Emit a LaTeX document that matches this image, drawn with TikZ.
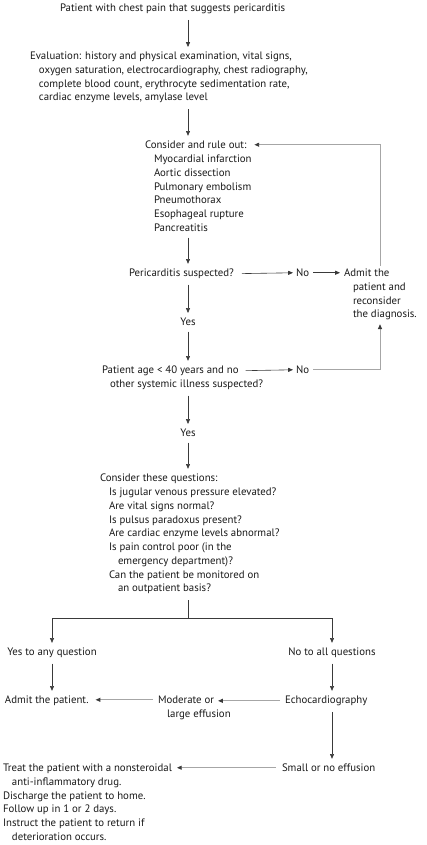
\documentclass[tikz,border=0pt]{standalone}
\usepackage{fontspec}
\setmainfont{PT Sans}
\usetikzlibrary{arrows.meta}
\definecolor{dk}{HTML}{3A3A3A}
\definecolor{lg}{HTML}{A6A6A6}
\newcommand\dfont{\fontsize{10.8}{13.75}\selectfont}
\newcommand\myind{\hspace*{9pt}}
\begin{document}
\begin{tikzpicture}[x=1pt,y=-1pt,
  txt/.style={inner sep=0pt, outer sep=0pt, font=\dfont, align=left, text=black!90},
  tip/.style={-{Triangle[length=4.8pt,width=4pt,color=dk]}},
  arr/.style={draw=dk, line width=0.6pt, tip, shorten <=6pt, shorten >=5pt},
  dline/.style={draw=dk, line width=0.6pt},
  garr/.style={draw=lg, line width=0.9pt, tip},
]
\useasboundingbox (0,0) rectangle (427,845);
\coordinate (cx) at (188,0);
\coordinate (lx) at (380,0);

\node[txt, anchor=base west] (title) at (60,11.5) {Patient with chest pain that suggests pericarditis};
\node[txt, anchor=north west] (eval) at (30,52) {Evaluation: history and physical examination, vital signs,\\\myind oxygen saturation, electrocardiography, chest radiography,\\\myind complete blood count, erythrocyte sedimentation rate,\\\myind cardiac enzyme levels, amylase level};
\node[txt, anchor=base west] (rhead) at (145,148.5) {Consider and rule out:};
\node[txt, anchor=north west] (rlist) at (154,155) {Myocardial infarction\\Aortic dissection\\Pulmonary embolism\\Pneumothorax\\Esophageal rupture\\Pancreatitis};
\node[txt, anchor=base west] (perc) at (129,276.5) {Pericarditis suspected?};
\node[txt, anchor=base west] (no1) at (296,276.5) {No};
\node[txt, anchor=north west] (admit1) at (344,269) {Admit the\\\myind patient and\\\myind reconsider\\\myind the diagnosis.};
\node[txt, anchor=base] (yes1) at (188,325.5) {Yes};
\node[txt, anchor=base west] (age1) at (102,373.5) {Patient age < 40 years and no};
\node[txt, anchor=base west] (age2) at (110,387.5) {other systemic illness suspected?};
\node[txt, anchor=base west] (no2) at (296,373.5) {No};
\node[txt, anchor=base] (yes2) at (188,436.5) {Yes};
\node[txt, anchor=base west] (qhead) at (100,481.5) {Consider these questions:};
\node[txt, anchor=north west] (qlist) at (109,488) {Is jugular venous pressure elevated?\\Are vital signs normal?\\Is pulsus paradoxus present?\\Are cardiac enzyme levels abnormal?\\Is pain control poor (in the\\\myind emergency department)?\\Can the patient be monitored on\\\myind an outpatient basis?};
\coordinate (sp) at (188,618);
\node[txt, anchor=base] (yesany) at (52,655.5) {Yes to any question};
\node[txt, anchor=base] (noall) at (332,655.5) {No to all questions};
\node[txt, anchor=base west] (admit2) at (5,703.5) {Admit the patient.};
\node[txt, anchor=base west] (mod1) at (158,703.5) {Moderate or};
\node[txt, anchor=base west] (mod2) at (167,717) {large effusion};
\node[txt, anchor=base west] (echo) at (285,703.5) {Echocardiography};
\node[txt, anchor=base west] (small) at (282,771.5) {Small or no effusion};
\node[txt, anchor=north west] (treat) at (3,764) {Treat the patient with a nonsteroidal\\\myind anti-inflammatory drug.\\Discharge the patient to home.\\Follow up in 1 or 2 days.\\Instruct the patient to return if\\\myind deterioration occurs.};

% dark arrows
\draw[arr] (cx |- title.south) -- (cx |- eval.north);
\draw[arr] (cx |- eval.south) -- (cx |- rhead.north);
\draw[arr] (cx |- rlist.south) -- (cx |- perc.north);
\draw[arr, shorten <=8pt, shorten >=3pt] (perc.east) -- (no1.west);
\draw[arr, shorten <=4pt, shorten >=4pt] (no1.east) -- (no1.east -| admit1.west);
\draw[arr] (cx |- perc.south) -- (yes1.north);
\draw[arr] (yes1.south) -- (cx |- age1.north);
\draw[arr, shorten <=7pt, shorten >=3pt] (age1.east) -- (no2.west);
\draw[arr] (cx |- age2.south) -- (yes2.north);
\draw[arr] (yes2.south) -- (cx |- qhead.north);
\draw[dline, shorten <=6pt] (cx |- qlist.south) -- (sp);
\draw[arr, shorten <=0pt] (sp) -| (yesany.north);
\draw[arr, shorten <=0pt] (sp) -| (noall.north);
\draw[arr] (yesany.south) -- (yesany.south |- admit2.north);
\draw[arr] (noall.south) -- (noall.south |- echo.north);
\draw[arr] (noall.south |- echo.south) -- (noall.south |- small.north);

% grey arrows
\draw[garr, shorten <=3pt, shorten >=8pt] (lx |- admit1.north) -- (lx |- rhead.east) -- (rhead.east);
\draw[garr, shorten <=4pt, shorten >=4pt] (no2.east) -- (lx |- no2.east) -- (lx |- admit1.south);
\draw[garr, shorten <=5pt, shorten >=4pt] (echo.west) -- (echo.west -| mod1.east);
\draw[garr, shorten <=5pt, shorten >=7pt] (mod1.west) -- (mod1.west -| admit2.east);
\draw[garr, shorten <=6pt, shorten >=5pt] (small.west) -- (small.west -| treat.east);
\end{tikzpicture}
\end{document}
